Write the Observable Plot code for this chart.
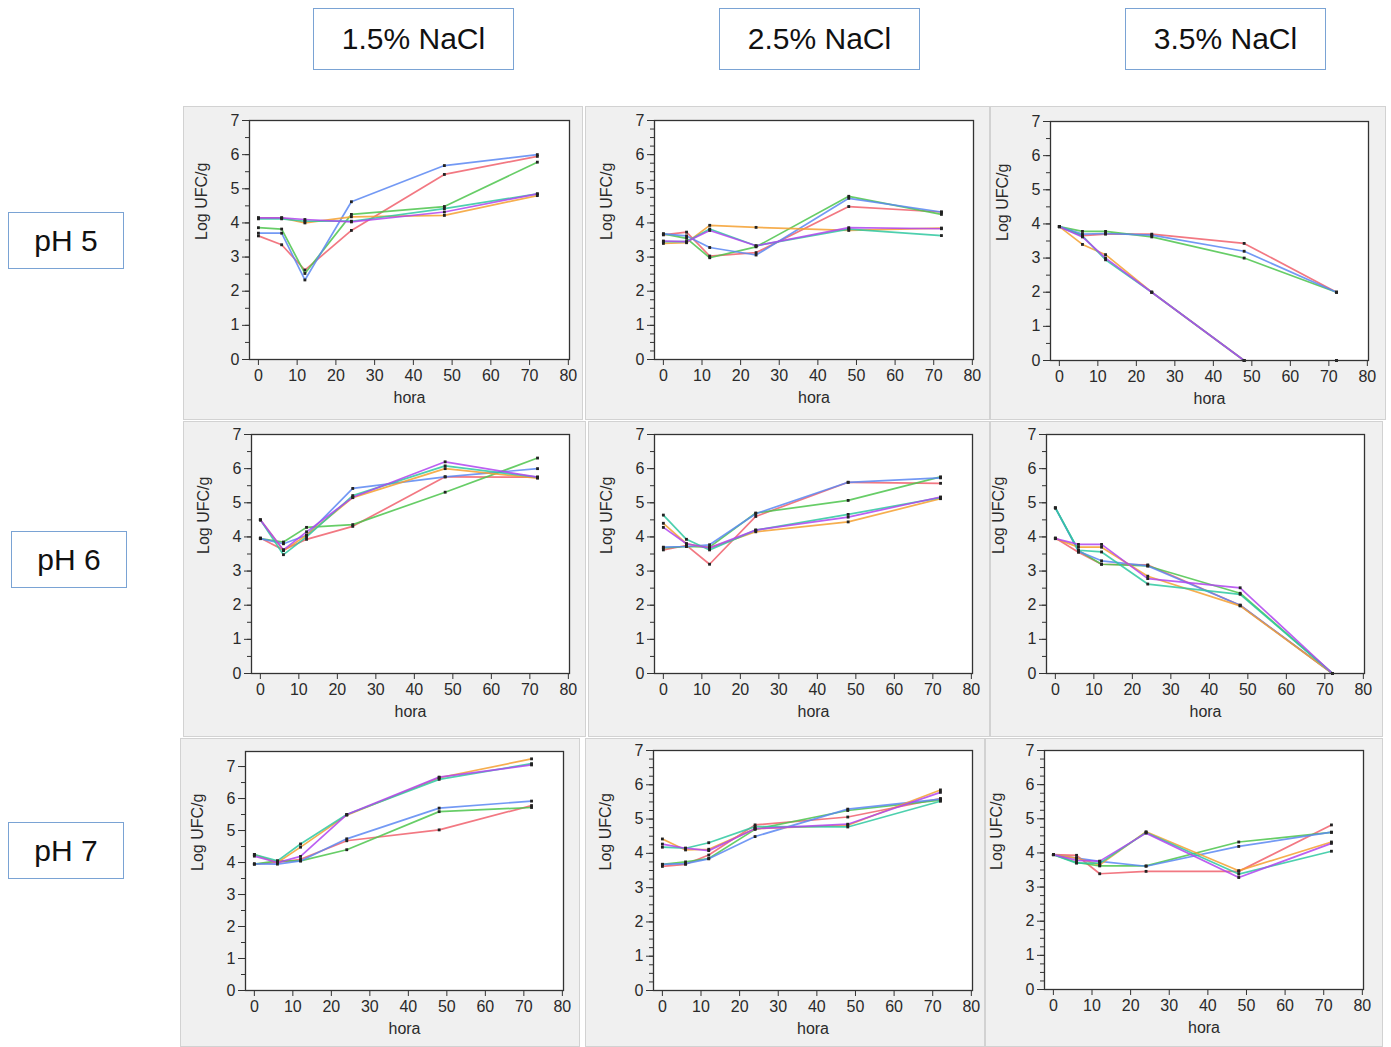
<!DOCTYPE html>
<html><head><meta charset="utf-8">
<script src="https://cdn.jsdelivr.net/npm/d3@7"></script>
<script src="https://cdn.jsdelivr.net/npm/@observablehq/plot@0.6"></script>
<style>
body{margin:0;background:#fff;font-family:"Liberation Sans",Arial,sans-serif;}
#root{position:relative;width:1391px;height:1047px;overflow:hidden;}
.box{position:absolute;border:1.5px solid #7aa3d4;box-sizing:border-box;display:flex;align-items:center;justify-content:center;font-size:30px;color:#111;background:#fff;}
.panel{position:absolute;background:#f0f0f0;border:1px solid #d2d2d2;box-sizing:border-box;}
.plot{position:absolute;}
</style></head><body><div id="root"></div>
<script>
// ---- data ----
const hours = [0, 6, 12, 24, 48, 72];
const seriesNames = ["rojo", "verde", "azul", "naranja", "turquesa", "morado"];
const seriesColors = ["#f0606c", "#4cc44c", "#5a87f2", "#f5a030", "#2ec8a0", "#b044ee"];
const naclLabels = ["1.5% NaCl", "2.5% NaCl", "3.5% NaCl"];
const phLabels = ["pH 5", "pH 6", "pH 7"];
const xTicks = [0, 10, 20, 30, 40, 50, 60, 70, 80];

// rows: rojo, verde, azul, naranja, turquesa, morado ; columns: hours
const pH5_NaCl15 = [
  [3.62, 3.36, 2.62, 3.78, 5.42, 5.95],
  [3.86, 3.82, 2.52, 4.25, 4.48, 5.78],
  [3.70, 3.70, 2.33, 4.62, 5.68, 6.00],
  [4.15, 4.15, 4.00, 4.18, 4.22, 4.80],
  [4.12, 4.12, 4.05, 4.05, 4.42, 4.85],
  [4.15, 4.15, 4.10, 4.03, 4.32, 4.85]
];
const pH5_NaCl25 = [
  [3.65, 3.73, 3.03, 3.13, 4.48, 4.32],
  [3.68, 3.55, 2.98, 3.30, 4.78, 4.25],
  [3.68, 3.62, 3.28, 3.06, 4.72, 4.32],
  [3.40, 3.42, 3.93, 3.87, 3.78, 3.85],
  [3.45, 3.45, 3.82, 3.33, 3.82, 3.63],
  [3.47, 3.45, 3.78, 3.33, 3.86, 3.83]
];
const pH5_NaCl35 = [
  [3.92, 3.66, 3.70, 3.70, 3.43, 2.00],
  [3.92, 3.78, 3.78, 3.62, 3.00, 2.00],
  [3.92, 3.70, 3.72, 3.67, 3.20, 2.00],
  [3.92, 3.40, 3.10, 2.00, 0.00, 0.00],
  [3.92, 3.65, 2.95, 2.00, 0.00, 0.00],
  [3.92, 3.62, 3.00, 2.00, 0.00, 0.00]
];
const pH6_NaCl15 = [
  [3.97, 3.62, 3.93, 4.31, 5.76, 5.75],
  [3.95, 3.85, 4.28, 4.36, 5.31, 6.31],
  [3.95, 3.80, 4.05, 5.42, 5.76, 6.00],
  [4.50, 3.60, 4.05, 5.15, 6.00, 5.72],
  [4.50, 3.48, 4.00, 5.21, 6.08, 5.75],
  [4.50, 3.62, 4.15, 5.16, 6.20, 5.75]
];
const pH6_NaCl25 = [
  [3.62, 3.75, 3.20, 4.60, 5.60, 5.57],
  [3.68, 3.72, 3.70, 4.70, 5.07, 5.76],
  [3.70, 3.72, 3.77, 4.68, 5.60, 5.73],
  [4.40, 3.80, 3.68, 4.15, 4.44, 5.12],
  [4.64, 3.93, 3.62, 4.20, 4.66, 5.15],
  [4.28, 3.80, 3.68, 4.20, 4.58, 5.17]
];
const pH6_NaCl35 = [
  [3.97, 3.55, 3.20, 3.18, 2.00, 0.00],
  [4.85, 3.60, 3.20, 3.15, 2.35, 0.00],
  [4.85, 3.58, 3.30, 3.15, 2.00, 0.00],
  [3.95, 3.70, 3.70, 2.85, 1.98, 0.00],
  [4.85, 3.61, 3.56, 2.62, 2.32, 0.00],
  [3.95, 3.78, 3.78, 2.78, 2.51, 0.00]
];
const pH7_NaCl15 = [
  [3.95, 4.00, 4.10, 4.68, 5.02, 5.78],
  [3.95, 4.05, 4.05, 4.40, 5.59, 5.72],
  [3.96, 3.95, 4.05, 4.74, 5.70, 5.92],
  [4.25, 4.00, 4.48, 5.48, 6.65, 7.24],
  [4.25, 4.05, 4.58, 5.50, 6.60, 7.09],
  [4.20, 4.00, 4.19, 5.50, 6.67, 7.05]
];
const pH7_NaCl25 = [
  [3.62, 3.68, 3.95, 4.83, 5.06, 5.60],
  [3.68, 3.75, 3.85, 4.70, 5.25, 5.55],
  [3.68, 3.70, 3.84, 4.49, 5.29, 5.58],
  [4.42, 4.10, 4.12, 4.72, 4.82, 5.85],
  [4.18, 4.15, 4.31, 4.78, 4.77, 5.52],
  [4.27, 4.15, 4.08, 4.72, 4.85, 5.78]
];
const pH7_NaCl35 = [
  [3.95, 3.93, 3.39, 3.46, 3.46, 4.82],
  [3.95, 3.72, 3.62, 3.62, 4.32, 4.60],
  [3.95, 3.85, 3.75, 3.61, 4.19, 4.61],
  [3.95, 3.85, 3.65, 4.62, 3.48, 4.32],
  [3.95, 3.70, 3.70, 4.60, 3.38, 4.05],
  [3.95, 3.78, 3.76, 4.58, 3.28, 4.28]
];

// ---- layout ----
const panels = [
  {data: pH5_NaCl15, x: 183, y: 106, w: 400, h: 314, L: 249, R: 569, T: 120, B: 359, ymax: 7, minor: 0.5},
  {data: pH5_NaCl25, x: 585, y: 106, w: 405, h: 314, L: 654, R: 973, T: 120, B: 359, ymax: 7, minor: 0.25},
  {data: pH5_NaCl35, x: 990, y: 106, w: 396, h: 314, L: 1050, R: 1368, T: 121, B: 360, ymax: 7, minor: 0.5},
  {data: pH6_NaCl15, x: 183, y: 421, w: 403, h: 316, L: 251, R: 569, T: 434, B: 673, ymax: 7, minor: 0.5},
  {data: pH6_NaCl25, x: 588, y: 421, w: 402, h: 316, L: 654, R: 972, T: 434, B: 673, ymax: 7, minor: 0.5},
  {data: pH6_NaCl35, x: 990, y: 421, w: 393, h: 316, L: 1046, R: 1364, T: 434, B: 673, ymax: 7, minor: 0.5},
  {data: pH7_NaCl15, x: 180, y: 738, w: 400, h: 309, L: 245, R: 563, T: 751, B: 990, ymax: 7.47, minor: 0.5},
  {data: pH7_NaCl25, x: 585, y: 738, w: 400, h: 309, L: 653, R: 972, T: 750, B: 990, ymax: 7, minor: 0.25},
  {data: pH7_NaCl35, x: 985, y: 738, w: 398, h: 309, L: 1044, R: 1363, T: 750, B: 989, ymax: 7, minor: 0.25}
];
const colBoxes = [{x: 313, y: 8, w: 201, h: 62}, {x: 719, y: 8, w: 201, h: 62}, {x: 1125, y: 8, w: 201, h: 62}];
const rowBoxes = [{x: 8, y: 212, w: 116, h: 57}, {x: 11, y: 531, w: 116, h: 57}, {x: 8, y: 822, w: 116, h: 57}];

const root = document.getElementById("root");

function addBox(text, b) {
  const d = document.createElement("div");
  d.className = "box";
  d.style.left = b.x + "px"; d.style.top = b.y + "px";
  d.style.width = b.w + "px"; d.style.height = b.h + "px";
  d.textContent = text;
  root.appendChild(d);
}
naclLabels.forEach((t, i) => addBox(t, colBoxes[i]));
phLabels.forEach((t, i) => addBox(t, rowBoxes[i]));

function makePanel(cfg) {
  const rows = [];
  cfg.data.forEach((vals, si) => vals.forEach((v, i) => {
    // a segment that would run along the zero axis (value stays at 0) is not drawn
    const onAxis = i > 0 && v === 0 && vals[i - 1] === 0;
    rows.push({hora: hours[i], ufc: v, serie: seriesNames[si], onAxis});
  }));
  const bg = document.createElement("div");
  bg.className = "panel";
  bg.style.left = cfg.x + "px"; bg.style.top = cfg.y + "px";
  bg.style.width = cfg.w + "px"; bg.style.height = cfg.h + "px";
  root.appendChild(bg);

  const ml = cfg.L - cfg.x, mr = cfg.x + cfg.w - cfg.R;
  const mt = cfg.T - cfg.y, mb = cfg.y + cfg.h - cfg.B;
  const majors = d3.range(0, Math.floor(cfg.ymax) + 1, 1);
  const minors = d3.range(0, cfg.ymax + 1e-9, cfg.minor);
  const svg = Plot.plot({
    width: cfg.w, height: cfg.h,
    marginLeft: ml, marginRight: mr, marginTop: mt, marginBottom: mb,
    style: {background: "transparent", fontFamily: "Liberation Sans, Arial, sans-serif", fontSize: "16px", color: "#2a2a2a", overflow: "visible"},
    x: {domain: [-2.3, 80.3]},
    y: {domain: [0, cfg.ymax]},
    color: {domain: seriesNames, range: seriesColors},
    marks: [
      Plot.frame({fill: "white"}),
      Plot.axisY(minors, {tickSize: 4, text: null, label: null, stroke: "#333"}),
      Plot.axisY(majors, {tickSize: 7, tickPadding: 3, label: null, stroke: "#333", fill: "#2a2a2a", fontSize: 16}),
      Plot.axisX(xTicks, {tickSize: 6, tickPadding: 4, label: null, stroke: "#333", fill: "#2a2a2a", fontSize: 16}),
      Plot.line(rows, {filter: d => !d.onAxis, x: "hora", y: "ufc", z: "serie", stroke: "serie", strokeWidth: 1.7, strokeOpacity: 0.85}),
      Plot.dot(rows, {x: "hora", y: "ufc", symbol: "square", r: 1.6, fill: "#222"}),
      Plot.frame({stroke: "#333", strokeWidth: 1.3}),
      Plot.text(["hora"], {frameAnchor: "bottom", dy: 43, fontSize: 16, fill: "#2a2a2a"}),
      Plot.text(["Log UFC/g"], {frameAnchor: "left", dx: -48, rotate: -90, fontSize: 16, fill: "#2a2a2a"})
    ]
  });
  svg.classList.add("plot");
  svg.style.left = cfg.x + "px"; svg.style.top = cfg.y + "px";
  root.appendChild(svg);
}
panels.forEach(makePanel);
</script>
</body></html>
